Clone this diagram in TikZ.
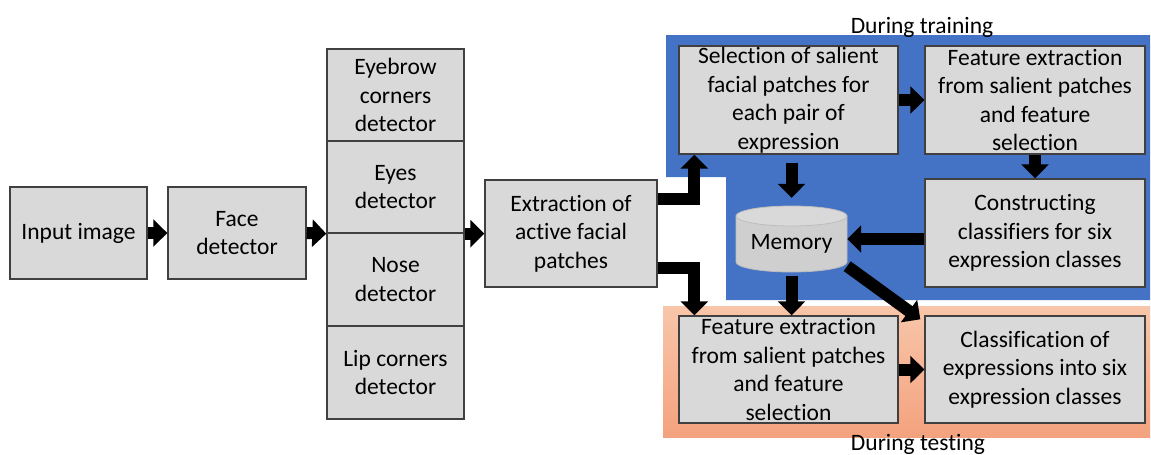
\documentclass[tikz,border=0pt]{standalone}
\usepackage{fontspec}
\setmainfont[Ligatures=NoCommon]{Carlito}
\usetikzlibrary{arrows.meta,calc}
\definecolor{boxfill}{HTML}{D9D9D9}
\definecolor{boxline}{HTML}{404040}
\definecolor{trainblue}{HTML}{4472C4}
\definecolor{testtop}{HTML}{F8C6AA}
\definecolor{testbot}{HTML}{F4A27E}
\definecolor{memfill}{HTML}{CFCFCF}
\definecolor{memtop}{HTML}{D9D9D9}
\definecolor{memline}{HTML}{BDBDBD}
\begin{document}
\begin{tikzpicture}[x=1pt,y=-1pt,
  every node/.style={font=\fontsize{23.5}{28.5}\selectfont},
  box/.style={draw=boxline, fill=boxfill, line width=1.4pt, inner sep=0pt, align=center},
  arr/.style={line width=12pt, -{Triangle[length=14pt 0 0, width=27pt 0 0]}},
  lbl/.style={inner sep=0pt}
]
\useasboundingbox (0,0) rectangle (1151,455);
% regions
\fill[trainblue] (666,35) -- (1150,35) -- (1150,300) -- (726,300) -- (726,177) -- (666,177) -- cycle;
\shade[top color=testtop, bottom color=testbot] (663,306) rectangle (1150,437);
% labels
\node[lbl, anchor=base] (train) at (922,33) {During training};
\node[lbl, anchor=base] (test) at (918,450) {During testing};
% boxes
\node[box, minimum width=137pt, minimum height=92pt] (in) at (78.5,233) {Input image};
\node[box, minimum width=138pt, minimum height=92pt] (face) at (237,233) {Face\\detector};
\node[box, minimum width=137pt, minimum height=92pt] (brow) at (395.5,95) {Eyebrow\\corners\\detector};
\node[box, minimum width=137pt, minimum height=92pt] (eyes) at (395.5,187) {Eyes\\detector};
\node[box, minimum width=137pt, minimum height=93pt] (nose) at (395.5,279.5) {Nose\\detector};
\node[box, minimum width=137pt, minimum height=93pt] (lip) at (395.5,372.5) {Lip corners\\detector};
\node[box, minimum width=172pt, minimum height=107pt] (ext) at (571,233.5) {Extraction of\\active facial\\patches};
\node[box, minimum width=219pt, minimum height=108pt] (sel) at (788.5,100) {Selection of salient\\facial patches for\\each pair of\\expression};
\node[box, minimum width=220pt, minimum height=108pt] (fe1) at (1035,100) {Feature extraction\\from salient patches\\and feature\\selection};
\node[box, minimum width=220pt, minimum height=108pt] (con) at (1035,233) {Constructing\\classifiers for six\\expression classes};
\node[box, minimum width=219pt, minimum height=107pt] (fe2) at (788.5,369.5) {Feature extraction\\from salient patches\\and feature\\selection};
\node[box, minimum width=220pt, minimum height=107pt] (cls) at (1035,369.5) {Classification of\\expressions into six\\expression classes};
% memory cylinder
\node[inner sep=0pt, minimum width=111pt, minimum height=66pt] (mem) at (791.5,239) {};
\fill[memfill, draw=memline, line width=0.8pt] (736,216) -- (736,262) arc[start angle=180, end angle=0, x radius=55.5, y radius=10] -- (847,216) -- cycle;
\fill[memtop, draw=memline, line width=0.8pt] (791.5,216) ellipse [x radius=55.5, y radius=10];
\node[lbl] (memtxt) at (791.5,244) {Memory};
% arrows
\draw[arr] (in.east) -- (face.west);
\draw[arr] (face.east) -- (eyes.south west);
\draw[arr] (eyes.south east) -- (eyes.south east -| ext.west);
\draw[arr] ([yshift=-20pt]ext.north east) -| ([xshift=16pt]sel.south west);
\draw[arr] ([yshift=20pt]ext.south east) -| ([xshift=16pt]fe2.north west);
\draw[arr] (sel.east) -- (fe1.west);
\draw[arr] (fe1.south) -- (con.north);
\draw[arr] ($(sel.south -| mem.north)+(0,8)$) -- ($(mem.north)+(0,-8)$);
\draw[arr] (con.west |- mem.east) -- (mem.east);
\draw[arr] ($(mem.south)+(0,4)$) -- (fe2.north -| mem.south);
\draw[arr] ($(mem.south east)+(0,-6)$) -- ($(cls.north west)+(-4,4)$);
\draw[arr] (fe2.east) -- (cls.west);
\end{tikzpicture}
\end{document}
